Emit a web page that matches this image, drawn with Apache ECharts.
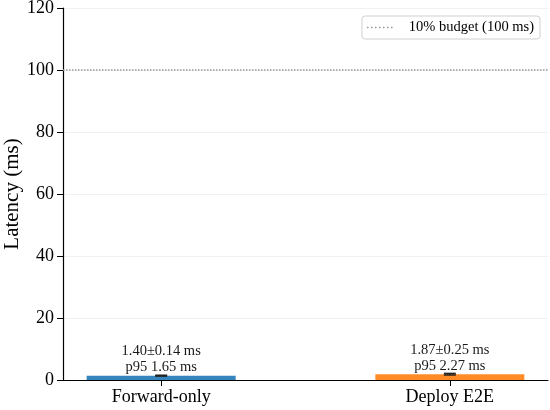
<!DOCTYPE html>
<html><head><meta charset="utf-8">
<script src="https://cdn.jsdelivr.net/npm/echarts@6/dist/echarts.min.js"></script>
<style>html,body{margin:0;padding:0;background:#fff}#c{width:550px;height:410px}</style>
</head><body><div id="c"></div>
<script>
const categories = ['Forward-only', 'Deploy E2E'];
const means = [1.40, 1.87];
const stds = [0.14, 0.25];
const p95s = [1.65, 2.27];
const barColors = ['#1f77b4', '#ff7f0e'];
const budget = 100;
const budgetName = '10% budget (100 ms)';

const F = 'Liberation Serif, Times New Roman, serif';
const dots = 'path://M0,0h1.6v1.6h-1.6z M4,0h1.6v1.6h-1.6z M8,0h1.6v1.6h-1.6z M12,0h1.6v1.6h-1.6z M16,0h1.6v1.6h-1.6z M20,0h1.6v1.6h-1.6z M24,0h1.6v1.6h-1.6z';
const chart = echarts.init(document.getElementById('c'));
chart.setOption({
  animation: false,
  grid: { left: 63, right: 2, top: 8, bottom: 30, containLabel: false, outerBoundsMode: 'none' },
  xAxis: {
    type: 'value', min: -0.34, max: 1.34,
    axisLine: { onZero: false, lineStyle: { color: '#000', width: 1.2 } },
    axisTick: { customValues: [0, 1], length: 6, lineStyle: { color: '#000' } },
    axisLabel: { customValues: [0, 1], formatter: v => categories[Math.round(v)], color: '#000', fontFamily: F, fontSize: 18, margin: 8 },
    splitLine: { show: false }
  },
  yAxis: {
    type: 'value', min: 0, max: 120, interval: 20,
    name: 'Latency (ms)', nameLocation: 'middle', nameGap: 40, nameMoveOverlap: false,
    nameTextStyle: { color: '#000', fontFamily: F, fontSize: 21 },
    axisLine: { show: true, onZero: false, lineStyle: { color: '#000', width: 1.2 } },
    axisTick: { show: true, length: 6, lineStyle: { color: '#000' } },
    axisLabel: { color: '#000', fontFamily: F, fontSize: 18, margin: 9 },
    splitLine: { show: true, lineStyle: { color: '#eeeeee', width: 0.8 } }
  },
  legend: {
    data: [{ name: budgetName, icon: dots }], right: 10, top: 16,
    borderColor: '#d0d0d0', borderWidth: 1, borderRadius: 3, backgroundColor: '#fff',
    padding: [4, 6, 4, 5], itemWidth: 28, itemHeight: 1.6, itemGap: 10,
    textStyle: { color: '#000', fontFamily: F, fontSize: 14.5, padding: [0, 0, 0, 10] }
  },
  series: [
    {
      type: 'bar', barWidth: 149,
      data: means.map((m, i) => ({
        value: [i, m],
        itemStyle: { color: barColors[i], opacity: 0.9 },
        label: {
          show: true, position: 'top', distance: 0,
          formatter: means[i].toFixed(2) + '±' + stds[i].toFixed(2) + ' ms\np95 ' + p95s[i].toFixed(2) + ' ms',
          color: '#000', fontFamily: F, fontSize: 14.5, lineHeight: 16
        }
      })),
      z: 2
    },
    {
      type: 'custom',
      data: means.map((m, i) => [i, m - stds[i], m + stds[i]]),
      renderItem: (params, api) => {
        const x = api.value(0);
        const lo = api.coord([x, api.value(1)]);
        const hi = api.coord([x, api.value(2)]);
        const hw = 6;
        const st = { stroke: '#222', lineWidth: 1.5 };
        return { type: 'group', children: [
          { type: 'line', shape: { x1: lo[0], y1: lo[1], x2: hi[0], y2: hi[1] }, style: st },
          { type: 'line', shape: { x1: lo[0] - hw, y1: lo[1], x2: lo[0] + hw, y2: lo[1] }, style: st },
          { type: 'line', shape: { x1: hi[0] - hw, y1: hi[1], x2: hi[0] + hw, y2: hi[1] }, style: st }
        ]};
      },
      z: 3
    },
    {
      name: budgetName, type: 'line', symbol: 'none',
      data: [[-0.34, budget], [1.34, budget]],
      lineStyle: { color: '#999', type: 'dotted', width: 1.5 },
      itemStyle: { color: '#999' },
      z: 1
    }
  ]
});
</script></body></html>
